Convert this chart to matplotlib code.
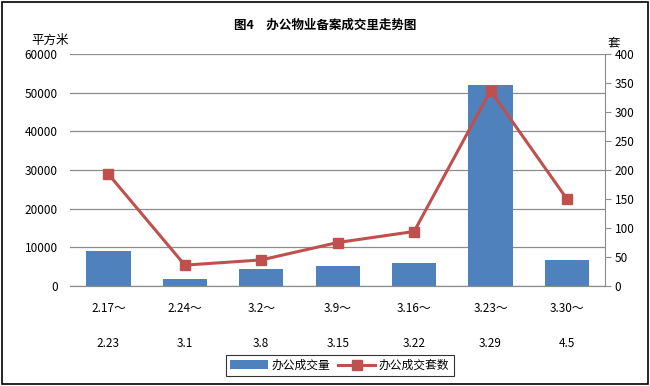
import matplotlib
matplotlib.use("Agg")
import matplotlib.pyplot as plt
import numpy as np
from matplotlib.transforms import blended_transform_factory
from matplotlib.patches import Rectangle

plt.rcParams["font.family"] = ["Noto Sans CJK SC", "DejaVu Sans"]

# ── Data ──────────────────────────────────────────────────────────────────────
PERIOD_START = ["2.17～", "2.24～", "3.2～", "3.9～", "3.16～", "3.23～", "3.30～"]
PERIOD_END = ["2.23", "3.1", "3.8", "3.15", "3.22", "3.29", "4.5"]
AREA = [8950, 1700, 4470, 5250, 5850, 51900, 6800]      # 办公成交量 (平方米)
UNITS = [193, 36, 45, 75, 94, 337, 150]                   # 办公成交套数 (套)

BAR_C, LINE_C, TXT = "#4F81BD", "#C0504D", "#000000"

fig = plt.figure(figsize=(6.5, 3.86), dpi=100)
fig.patch.set_facecolor("white")
ax = fig.add_axes([0.108, 0.259, 0.823, 0.601])
ax2 = ax.twinx()

x = np.arange(len(AREA))
bars = ax.bar(x, AREA, width=0.58, color=BAR_C, zorder=2, label="办公成交量")
line, = ax2.plot(x, UNITS, color=LINE_C, linewidth=2.2, marker="s", markersize=7,
                 zorder=3, label="办公成交套数")

ax.set_xlim(-0.5, len(AREA) - 0.5)
ax.set_ylim(0, 60000)
ax.set_yticks(range(0, 60001, 10000))
ax2.set_ylim(0, 400)
ax2.set_yticks(range(0, 401, 50))
ax.grid(axis="y", color="#8c8c8c", linewidth=0.9, zorder=0)
ax.set_axisbelow(True)

for a in (ax, ax2):
    for s in ("top", "left"):
        a.spines[s].set_visible(False)
    a.spines["right"].set_visible(False)
    a.spines["bottom"].set_color("#8c8c8c")
ax2.spines["right"].set_visible(True)
ax2.spines["right"].set_color("#8c8c8c")

ax.tick_params(axis="y", length=0, labelsize=8.5, pad=9, colors=TXT)
ax2.tick_params(axis="y", length=4, color="#8c8c8c", labelsize=8.5, pad=3, colors=TXT)
ax.tick_params(axis="x", length=0, labelbottom=False)

tr = blended_transform_factory(ax.transData, ax.transAxes)
for i, (s, e) in enumerate(zip(PERIOD_START, PERIOD_END)):
    ax.text(i, -0.095, s, transform=tr, ha="center", va="center", fontsize=8.5, color=TXT)
    ax.text(i, -0.246, e, transform=tr, ha="center", va="center", fontsize=8.5, color=TXT)

fig.text(0.5, 0.935, "图4　办公物业备案成交里走势图", ha="center", va="center",
         fontsize=9, fontweight="bold", color=TXT)
fig.text(0.077, 0.895, "平方米", ha="center", va="center", fontsize=9, color=TXT)
fig.text(0.945, 0.890, "套", ha="center", va="center", fontsize=9, color=TXT)

leg = fig.legend(handles=[bars, line], loc="center", bbox_to_anchor=(0.523, 0.054),
                 ncol=2, frameon=True, fancybox=False, fontsize=8.5, handlelength=3.2,
                 columnspacing=0.6, handletextpad=0.3, borderpad=0.35)
leg.get_frame().set_edgecolor("black")
leg.get_frame().set_linewidth(0.8)

fig.patches.append(Rectangle((0.003, 0.004), 0.994, 0.99, transform=fig.transFigure,
                             fill=False, edgecolor="black", linewidth=1.2))

fig.savefig("out.png", dpi=100, facecolor="white")
